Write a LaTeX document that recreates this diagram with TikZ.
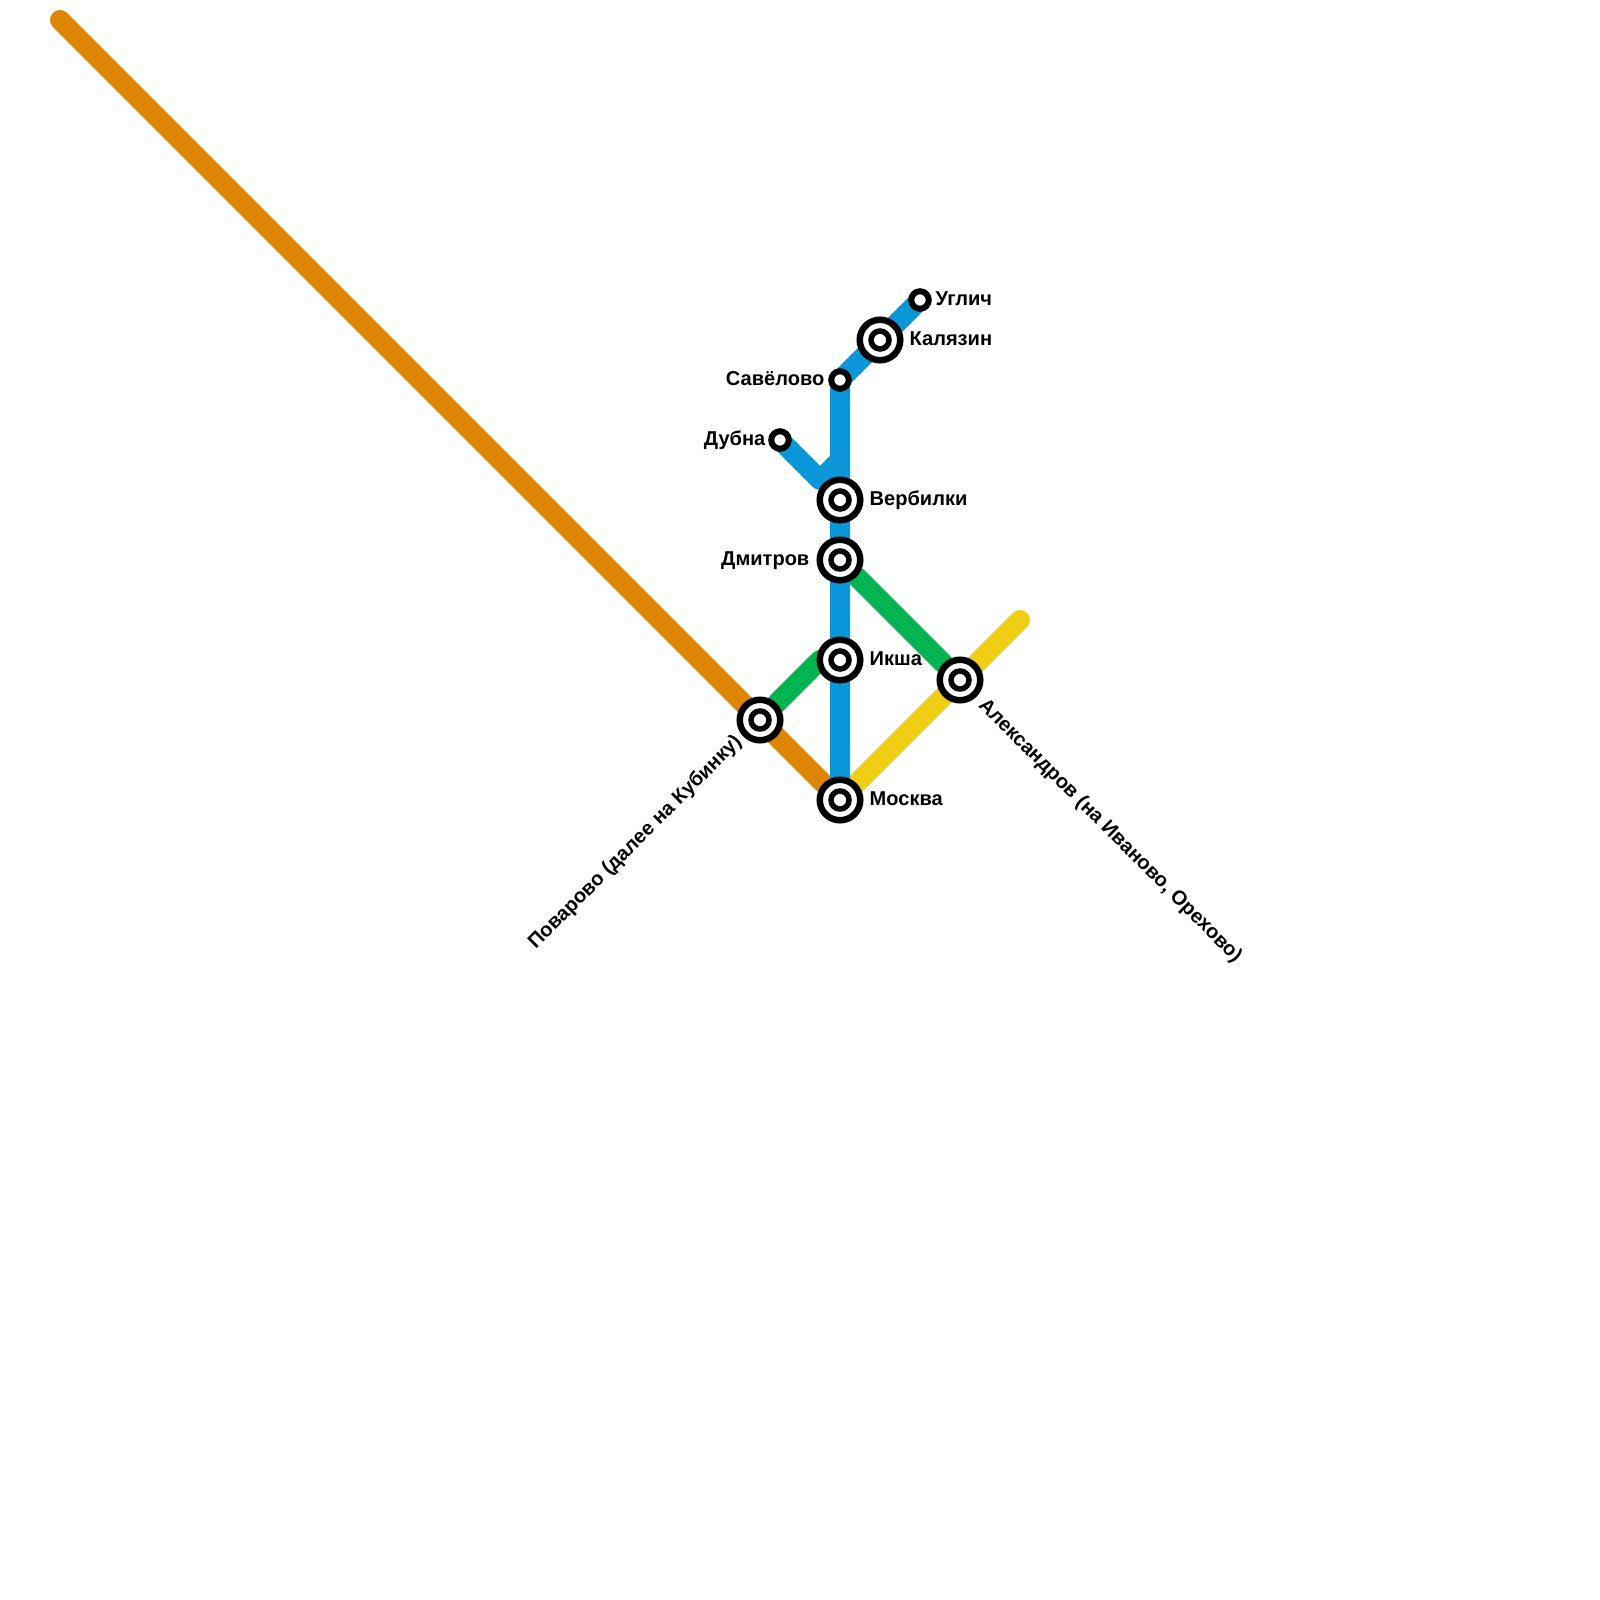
\documentclass[tikz,border=0pt]{standalone}
\usepackage{fontspec}
\setmainfont{Liberation Sans}
\usetikzlibrary{calc, backgrounds}
\definecolor{lineblue}{HTML}{0A97D9}
\definecolor{linegreen}{HTML}{00B451}
\definecolor{lineorange}{HTML}{DE8600}
\definecolor{lineyellow}{HTML}{F0CE15}
\tikzset{
    railline/.style={line width=0.2cm, line cap=round, line join=round},
    smallstop/.style={circle, draw=black, fill=white, line width=0.06cm, inner sep=0pt, minimum size=0.175cm},
    bigstop/.style={circle, draw=black, fill=white, line width=0.065cm, inner sep=0pt, minimum size=0.405cm,
        path picture={\draw[line width=0.055cm, fill=white] (path picture bounding box.center) circle (0.09cm);}},
    stoplabel/.style={inner sep=0pt, font=\fontsize{5.7}{7}\selectfont\bfseries, text=black}
}
\begin{document}
\begin{tikzpicture}[x=0.01cm, y=-0.01cm]
                \useasboundingbox (0,0) rectangle (1600,1600);
                \coordinate (orangestart) at (60,20);
                \coordinate (yellowend) at (1020,620);
                \coordinate (ikshajoin) at (820,660);
                \coordinate (dubnajoin) at (820,480);
                \coordinate (savelovojoin) at (840,460);
                \node[smallstop] (uglich) at (920,300) {};
                \node[bigstop] (kalyazin) at (880,340) {};
                \node[smallstop] (savelovo) at (840,380) {};
                \node[smallstop] (dubna) at (780,440) {};
                \node[bigstop] (verbilki) at (840,500) {};
                \node[bigstop] (dmitrov) at (840,560) {};
                \node[bigstop] (iksha) at (840,660) {};
                \node[bigstop] (povarovo) at (760,720) {};
                \node[bigstop] (aleksandrov) at (960,680) {};
                \node[bigstop] (moskva) at (840,800) {};
                \begin{scope}[on background layer]
                \draw[railline, lineorange] (orangestart) -- (moskva);
                \draw[railline, lineyellow] (moskva) -- (yellowend);
                \draw[railline, linegreen] (dmitrov) -- (aleksandrov);
                \draw[railline, linegreen] (povarovo) -- (ikshajoin);
                \draw[railline, lineblue] (uglich.center) -- (savelovo.center) -- (moskva.center);
                \draw[railline, lineblue] (dubna.center) -- (dubnajoin) -- (savelovojoin);
                \end{scope}
                \node[stoplabel, anchor=base west] (uglichname) at ($(uglich)+(15,5)$) {Углич};
                \node[stoplabel, anchor=base west] (kalyazinname) at ($(kalyazin)+(29,5)$) {Калязин};
                \node[stoplabel, anchor=base east] (savelovoname) at ($(savelovo)+(-15,5)$) {Савёлово};
                \node[stoplabel, anchor=base east] (dubnaname) at ($(dubna)+(-14,5)$) {Дубна};
                \node[stoplabel, anchor=base west] (verbilkiname) at ($(verbilki)+(29,5)$) {Вербилки};
                \node[stoplabel, anchor=base east] (dmitrovname) at ($(dmitrov)+(-30,5)$) {Дмитров};
                \node[stoplabel, anchor=base west] (ikshaname) at ($(iksha)+(29,5)$) {Икша};
                \node[stoplabel, anchor=base west] (moskvaname) at ($(moskva)+(29,5)$) {Москва};
                \node[stoplabel, rotate=45, anchor=east] (povarovoname) at ($(povarovo)+(-21,19)$) {Поварово (далее на Кубинку)};
                \node[stoplabel, rotate=-45, anchor=west] (aleksandrovname) at ($(aleksandrov)+(21,22)$) {Александров (на Иваново, Орехово)};
\end{tikzpicture}
\end{document}
